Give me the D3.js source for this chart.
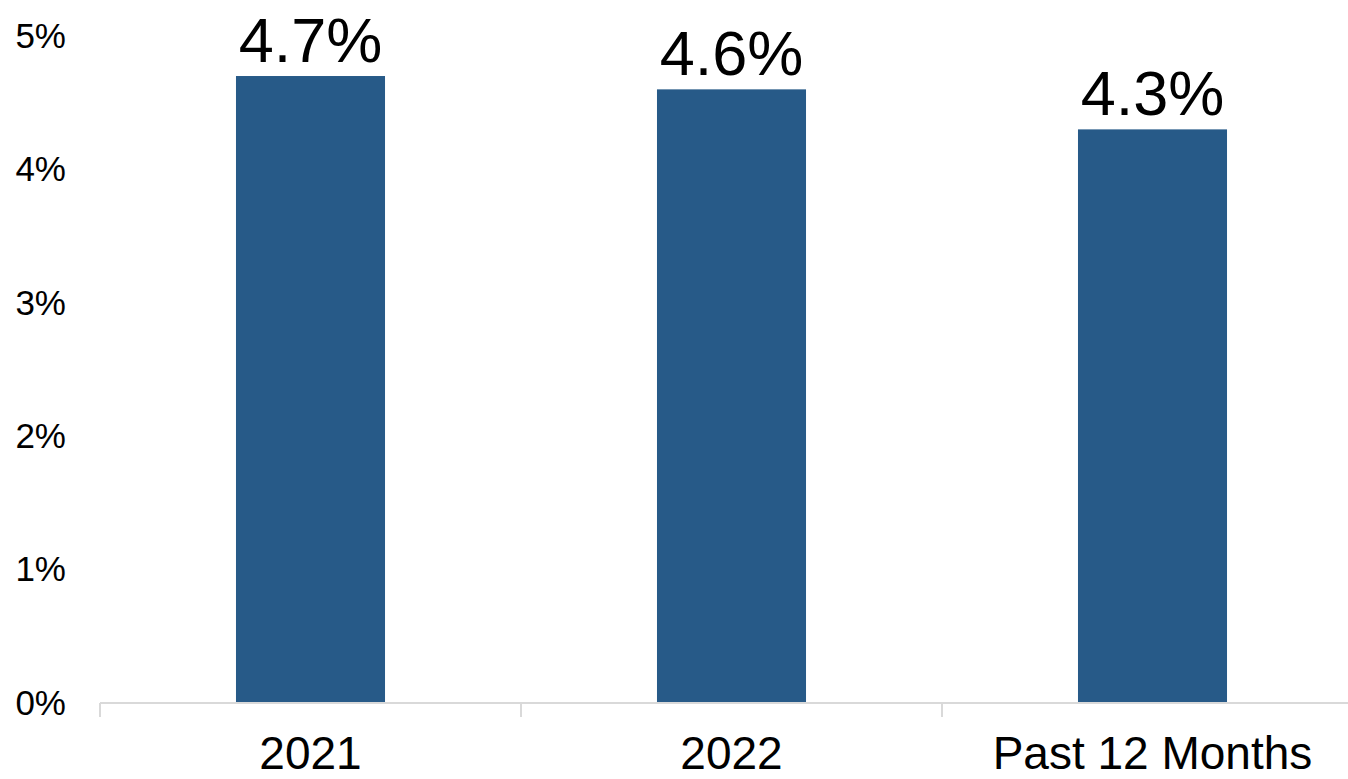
<!DOCTYPE html>
<html>
<head>
<meta charset="utf-8">
<script src="https://cdn.jsdelivr.net/npm/d3@7"></script>
<style>
  html, body { margin: 0; padding: 0; background: #ffffff; }
  svg { display: block; font-family: "Liberation Sans", Arial, sans-serif; }
</style>
</head>
<body>
<div id="chart"></div>
<script>
// ---- data ----
var categories = ["2021", "2022", "Past 12 Months"];
var values = [4.7, 4.6, 4.3];
var yTicks = [0, 1, 2, 3, 4, 5];

// ---- sizes ----
var svgWidth = 1348;
var svgHeight = 779;
var margin = { top: 36, right: -15, bottom: 76, left: 100 };
var width = svgWidth - margin.left - margin.right;
var height = svgHeight - margin.top - margin.bottom;

var svg = d3.select("#chart").append("svg")
  .attr("width", svgWidth)
  .attr("height", svgHeight);

var chartGroup = svg.append("g")
  .attr("transform", `translate(${margin.left}, ${margin.top})`);

// ---- scales ----
var xScale = d3.scaleBand()
  .domain(categories)
  .range([0, width])
  .paddingInner(0.646)
  .paddingOuter(0.323);

var yScale = d3.scaleLinear()
  .domain([0, 5])
  .range([height, 0]);

// ---- y axis (labels only) ----
var yAxis = chartGroup.append("g")
  .call(d3.axisLeft(yScale).tickValues(yTicks).tickFormat(d => d + "%").tickSize(0).tickPadding(34));
yAxis.select(".domain").remove();
yAxis.selectAll("text")
  .attr("font-size", 35)
  .attr("font-family", "Liberation Sans, Arial, sans-serif")
  .attr("fill", "#000");

// ---- bars ----
chartGroup.selectAll("rect.bar")
  .data(values)
  .enter()
  .append("rect")
  .classed("bar", true)
  .attr("x", (d, i) => xScale(categories[i]))
  .attr("y", d => yScale(d))
  .attr("width", xScale.bandwidth())
  .attr("height", d => height - yScale(d))
  .attr("fill", "#275a88");

// ---- value labels ----
chartGroup.selectAll("text.value")
  .data(values)
  .enter()
  .append("text")
  .classed("value", true)
  .attr("x", (d, i) => xScale(categories[i]) + xScale.bandwidth() / 2)
  .attr("y", d => yScale(d) - 14)
  .attr("text-anchor", "middle")
  .attr("font-size", 63)
  .attr("fill", "#000")
  .text(d => d.toFixed(1) + "%");

// ---- x axis ----
var xAxisG = chartGroup.append("g")
  .attr("transform", `translate(0, ${height})`);

xAxisG.append("line")
  .attr("x1", 0)
  .attr("x2", width)
  .attr("stroke", "#d9d9d9")
  .attr("stroke-width", 2);

var step = xScale.step();
var boundaries = d3.range(categories.length + 1).map(i => i * step);
xAxisG.selectAll("line.tick")
  .data(boundaries)
  .enter()
  .append("line")
  .classed("tick", true)
  .attr("x1", d => d)
  .attr("x2", d => d)
  .attr("y1", 0)
  .attr("y2", 14)
  .attr("stroke", "#d9d9d9")
  .attr("stroke-width", 2);

xAxisG.selectAll("text.cat")
  .data(categories)
  .enter()
  .append("text")
  .classed("cat", true)
  .attr("x", d => xScale(d) + xScale.bandwidth() / 2)
  .attr("y", 66)
  .attr("text-anchor", "middle")
  .attr("font-size", 46)
  .attr("fill", "#000")
  .text(d => d);
</script>
</body>
</html>
